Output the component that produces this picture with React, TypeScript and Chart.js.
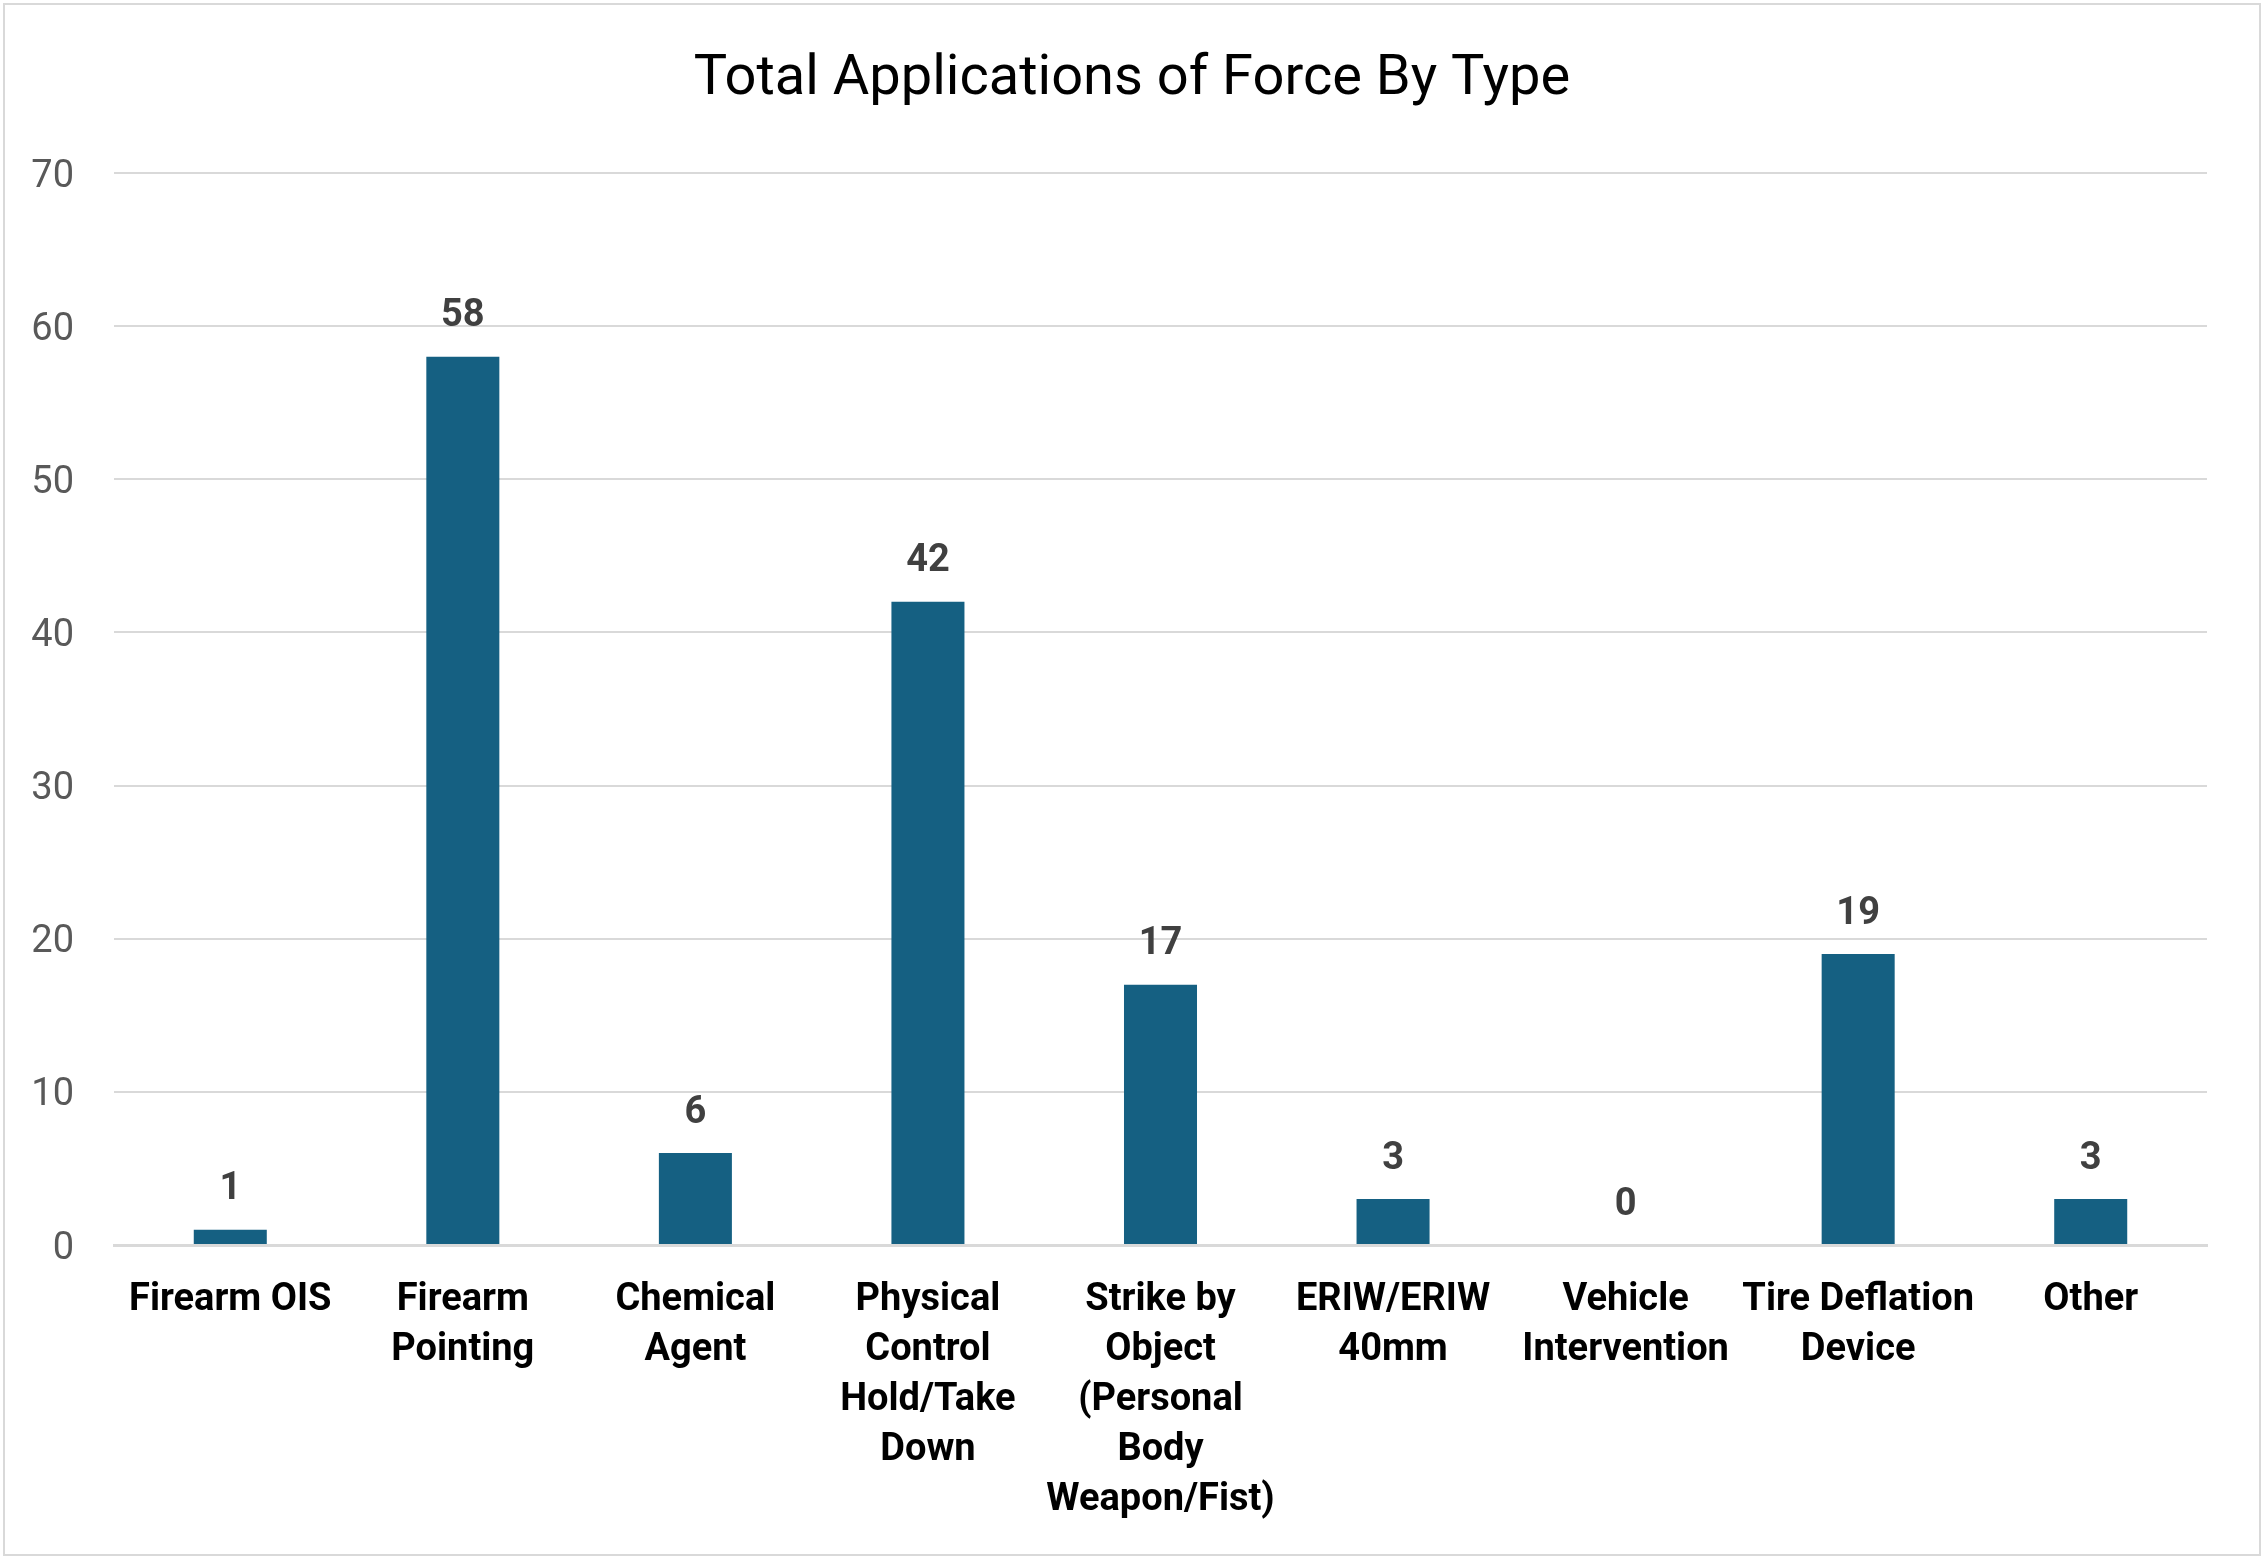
import React, { useEffect, useRef } from 'react';
import { Chart, registerables } from 'chart.js';

Chart.register(...registerables);

const chartTitle = 'Total Applications of Force By Type';

const categories: string[][] = [
  ['Firearm OIS'],
  ['Firearm', 'Pointing'],
  ['Chemical', 'Agent'],
  ['Physical', 'Control', 'Hold/Take', 'Down'],
  ['Strike by', 'Object', '(Personal', 'Body', 'Weapon/Fist)'],
  ['ERIW/ERIW', '40mm'],
  ['Vehicle', 'Intervention'],
  ['Tire Deflation', 'Device'],
  ['Other'],
];

const counts = [1, 58, 6, 42, 17, 3, 0, 19, 3];

const yMin = 0;
const yMax = 70;
const yStep = 10;

const FONT = 'Roboto, "Noto Sans", sans-serif';

// title centred on the whole canvas
const titlePlugin = {
  id: 'pageTitle',
  afterDraw(chart: any) {
    const ctx = chart.ctx;
    ctx.save();
    ctx.font = `56px ${FONT}`;
    ctx.fillStyle = '#000000';
    ctx.textAlign = 'center';
    ctx.textBaseline = 'middle';
    ctx.fillText(chartTitle, chart.width / 2, 80);
    ctx.restore();
  },
};

// value labels above each bar
const valueLabels = {
  id: 'valueLabels',
  afterDatasetsDraw(chart: any) {
    const ctx = chart.ctx;
    const meta = chart.getDatasetMeta(0);
    ctx.save();
    ctx.font = `bold 38px ${FONT}`;
    ctx.fillStyle = '#404040';
    ctx.textAlign = 'center';
    ctx.textBaseline = 'middle';
    meta.data.forEach((bar: any, i: number) => {
      ctx.fillText(String(counts[i]), bar.x, bar.y - 40);
    });
    ctx.restore();
  },
};

const ForceChart: React.FC = () => {
  const canvasRef = useRef<HTMLCanvasElement>(null);
  const chartRef = useRef<Chart | null>(null);

  useEffect(() => {
    if (!canvasRef.current) return;
    if (chartRef.current) chartRef.current.destroy();

    chartRef.current = new Chart(canvasRef.current, {
      type: 'bar',
      data: {
        labels: categories,
        datasets: [
          {
            label: 'Applications',
            data: counts,
            backgroundColor: '#156082',
            borderWidth: 0,
            barPercentage: 0.314,
            categoryPercentage: 1,
          },
        ],
      },
      options: {
        responsive: false,
        animation: false,
        devicePixelRatio: 1,
        layout: { padding: { top: 173, right: 57, left: 0, bottom: 0 } },
        plugins: {
          legend: { display: false },
          tooltip: { enabled: false },
          title: { display: false },
        },
        scales: {
          x: {
            grid: { display: false, drawTicks: false },
            border: { display: true, color: '#d9d9d9', width: 3 },
            ticks: {
              color: '#000000',
              padding: 30,
              maxRotation: 0,
              autoSkip: false,
              font: { family: FONT, size: 38, weight: 'bold', lineHeight: 50 / 38 },
            },
            afterFit: (scale: any) => {
              scale.height = 317;
            },
          },
          y: {
            min: yMin,
            max: yMax,
            grid: { color: '#d9d9d9', lineWidth: 2, drawTicks: false },
            border: { display: false },
            ticks: {
              stepSize: yStep,
              color: '#595959',
              padding: 40,
              labelOffset: 4,
              font: { family: FONT, size: 38 },
            },
            afterFit: (scale: any) => {
              scale.width = 114;
            },
          },
        },
      },
      plugins: [titlePlugin, valueLabels],
    });

    return () => {
      if (chartRef.current) {
        chartRef.current.destroy();
        chartRef.current = null;
      }
    };
  }, []);

  return (
    <div style={{ position: 'relative', width: 2264, height: 1562, background: '#ffffff' }}>
      <div
        style={{
          position: 'absolute',
          left: 3,
          top: 3,
          width: 2254,
          height: 1549,
          border: '2px solid #d9d9d9',
        }}
      />
      <canvas
        ref={canvasRef}
        width={2264}
        height={1562}
        style={{ position: 'absolute', left: 0, top: 0, width: 2264, height: 1562 }}
      />
    </div>
  );
};

export default function App() {
  useEffect(() => {
    document.body.style.margin = '0';
  }, []);
  return <ForceChart />;
}
